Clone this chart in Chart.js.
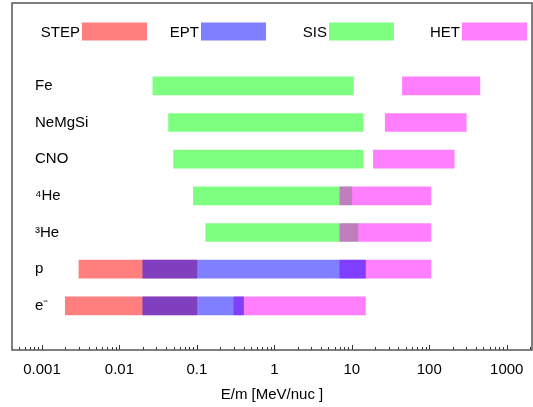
<!DOCTYPE html>
<html>
<head>
<meta charset="utf-8">
<script src="https://cdn.jsdelivr.net/npm/chart.js@4/dist/chart.umd.min.js"></script>
<style>
  html, body { margin: 0; padding: 0; background: #fff; }
  #wrap { width: 533px; height: 407px; }
</style>
</head>
<body>
<div id="wrap"><canvas id="rangeChart"></canvas></div>
<script>
// species rows, top to bottom
const species = ['Fe', 'NeMgSi', 'CNO', '\u2074He', '\u00b3He', 'p', 'e\u207b'];

// energy ranges per instrument [low, high] in MeV/nuc (null = not covered)
const stepRanges = [null, null, null, null, null, [0.003, 0.1], [0.002, 0.1]];
const eptRanges = [null, null, null, null, null, [0.02, 15], [0.02, 0.4]];
const sisRanges = [[0.027, 10.5], [0.043, 14], [0.05, 14], [0.09, 10], [0.13, 12], null, null];
const hetRanges = [[45, 450], [27, 300], [19, 210], [7, 105], [7, 105], [7, 105], [0.3, 15]];

const instruments = ['STEP', 'EPT', 'SIS', 'HET'];

const tickValues = [0.001, 0.01, 0.1, 1, 10, 100, 1000];
const tickLabels = ['0.001', '0.01', '0.1', '1', '10', '100', '1000'];

const FONT = "'Liberation Sans', Arial, sans-serif";

function toPoints(ranges) {
  return ranges
    .map((r, i) => r ? { x: r, y: i + 1 } : null)
    .filter(Boolean);
}

// frame, log tick marks and the in-plot legend
const decorPlugin = {
  id: 'decor',
  afterDraw(chart) {
    const { ctx, chartArea: a } = chart;
    const xs = chart.scales.x;
    ctx.save();

    // tick marks pointing into the plot
    ctx.strokeStyle = '#333';
    ctx.lineWidth = 1;
    for (let n = -4; n <= 3; n++) {
      for (let m = 1; m <= 9; m++) {
        const v = m * Math.pow(10, n);
        if (v < xs.min || v > xs.max) continue;
        const px = Math.round(xs.getPixelForValue(v)) + 0.5;
        const len = m === 1 ? 5 : 3;
        ctx.beginPath();
        ctx.moveTo(px, a.bottom);
        ctx.lineTo(px, a.bottom - len);
        ctx.stroke();
      }
    }

    // frame
    ctx.strokeStyle = '#555';
    ctx.lineWidth = 1.5;
    ctx.strokeRect(a.left, a.top, a.right - a.left, a.bottom - a.top);

    // legend: label then colour box
    const boxLeft = [82, 201, 329, 462];
    const boxW = 65, boxH = 18, cy = 31.5;
    ctx.font = '15px ' + FONT;
    ctx.textAlign = 'right';
    ctx.textBaseline = 'middle';
    chart.data.datasets.forEach((ds, i) => {
      ctx.fillStyle = ds.backgroundColor;
      ctx.fillRect(boxLeft[i], cy - boxH / 2, boxW, boxH);
      ctx.fillStyle = '#000';
      ctx.fillText(ds.label, boxLeft[i] - 2, cy + 1);
    });
    ctx.restore();
  }
};

new Chart(document.getElementById('rangeChart'), {
  type: 'bar',
  data: {
    datasets: [
      { label: instruments[0], data: toPoints(stepRanges), backgroundColor: 'rgba(255,0,0,0.5)', order: 4 },
      { label: instruments[1], data: toPoints(eptRanges), backgroundColor: 'rgba(0,0,255,0.5)', order: 1 },
      { label: instruments[2], data: toPoints(sisRanges), backgroundColor: 'rgba(0,255,0,0.5)', order: 3 },
      { label: instruments[3], data: toPoints(hetRanges), backgroundColor: 'rgba(255,0,255,0.5)', order: 2 }
    ]
  },
  options: {
    indexAxis: 'y',
    responsive: true,
    maintainAspectRatio: false,
    animation: false,
    grouped: false,
    barThickness: 18,
    borderWidth: 0,
    borderSkipped: false,
    layout: { padding: { left: 12, right: 1, top: 3, bottom: 0 } },
    scales: {
      x: {
        type: 'logarithmic',
        min: 0.00041,
        max: 2120,
        grid: { display: false, drawTicks: false },
        border: { display: false },
        afterBuildTicks: (scale) => {
          scale.ticks = tickValues.map(v => ({ value: v }));
        },
        afterFit: (scale) => {
          scale.height = 57;
          scale.paddingLeft = 0;
          scale.paddingRight = 0;
        },
        ticks: {
          autoSkip: false,
          maxRotation: 0,
          padding: 11,
          color: '#000',
          font: { size: 15, family: FONT },
          callback: (v) => {
            const i = tickValues.indexOf(v);
            return i >= 0 ? tickLabels[i] : '';
          }
        },
        title: {
          display: true,
          text: 'E/m [MeV/nuc ]',
          color: '#000',
          font: { size: 15, family: FONT },
          padding: { top: 7, bottom: 3 }
        }
      },
      y: {
        type: 'linear',
        reverse: true,
        offset: false,
        min: -1.258,
        max: 8.205,
        grid: { display: false, drawTicks: false },
        border: { display: false },
        afterBuildTicks: (scale) => {
          scale.ticks = species.map((s, i) => ({ value: i + 1 }));
        },
        afterFit: (scale) => {
          scale.width = 0;
          scale.paddingTop = 0;
          scale.paddingBottom = 0;
        },
        ticks: {
          mirror: true,
          padding: 23,
          color: '#000',
          font: { size: 15, family: FONT },
          callback: (v) => species[v - 1] || ''
        }
      }
    },
    plugins: {
      legend: { display: false },
      tooltip: { enabled: false }
    }
  },
  plugins: [decorPlugin]
});
</script>
</body>
</html>
